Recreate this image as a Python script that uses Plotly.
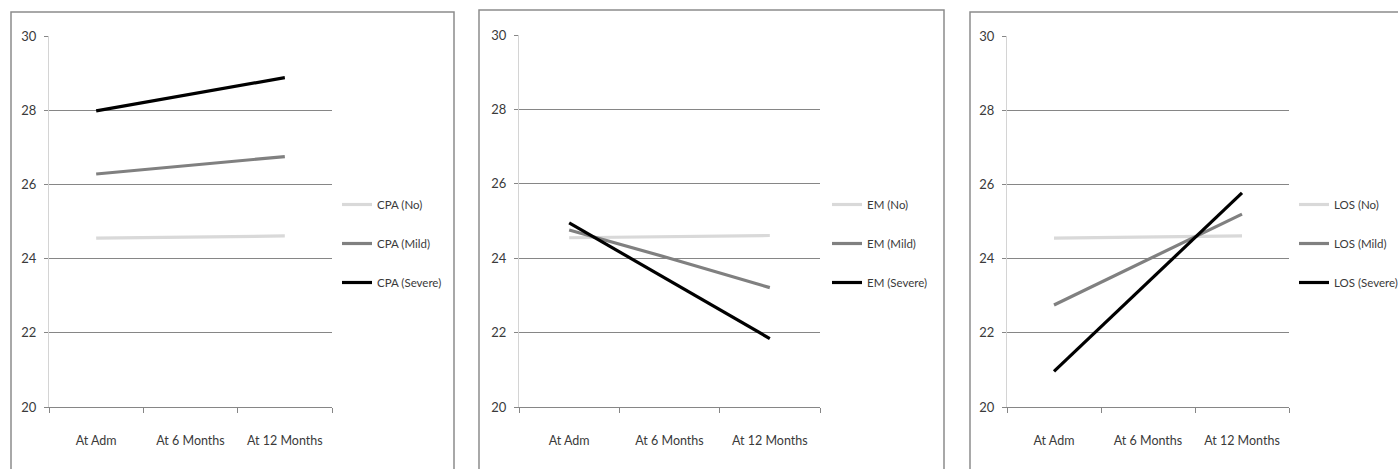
import plotly.graph_objects as go

W, H = 1399, 469

categories = ["At Adm", "At 6 Months", "At 12 Months"]

cpa_no = [24.55, 24.58, 24.61]
cpa_mild = [26.28, 26.51, 26.75]
cpa_severe = [27.98, 28.43, 28.88]

em_no = [24.55, 24.58, 24.61]
em_mild = [24.76, 24.0, 23.21]
em_severe = [24.95, 23.40, 21.84]

los_no = [24.55, 24.58, 24.61]
los_mild = [22.75, 23.98, 25.20]
los_severe = [20.96, 23.37, 25.77]

panel_names = ["CPA", "EM", "LOS"]
panel_series = [
    [cpa_no, cpa_mild, cpa_severe],
    [em_no, em_mild, em_severe],
    [los_no, los_mild, los_severe],
]
levels = ["No", "Mild", "Severe"]
colors = ["#d9d9d9", "#808080", "#000000"]
widths = [3.2, 3.2, 3.2]

# pixel layout
plot_x = [(49, 332), (519, 820), (1007, 1289)]
plot_top = [36, 35, 36]
plot_bottom = 407
legend_x = [337, 827, 1294]
boxes = [(11, 12, 454), (479, 10, 944), (970, 12, None)]

FONT = "Lato, Roboto, sans-serif"
TXT = "#3a3a3a"

fig = go.Figure()
for i, (pname, series) in enumerate(zip(panel_names, panel_series)):
    k = "" if i == 0 else str(i + 1)
    for j, (lvl, vals) in enumerate(zip(levels, series)):
        fig.add_trace(go.Scatter(
            x=categories, y=vals, mode="lines",
            name=f"{pname} ({lvl})",
            line=dict(color=colors[j], width=widths[j]),
            xaxis="x" + k, yaxis="y" + k,
            legend="legend" + k,
            legendgroup=f"{pname}{j}",
            hoverinfo="skip",
        ))

layout = dict(
    width=W, height=H,
    margin=dict(l=0, r=0, t=0, b=0, autoexpand=False),
    paper_bgcolor="white", plot_bgcolor="white",
    font=dict(family=FONT, size=12, color=TXT),
    shapes=[],
)
for i in range(3):
    k = "" if i == 0 else str(i + 1)
    x0, x1 = plot_x[i]
    ydom = [1 - plot_bottom / H, 1 - plot_top[i] / H]
    layout["xaxis" + k] = dict(
        domain=[x0 / W, x1 / W], anchor="y" + k,
        type="category", range=[-0.5, 2.5],
        showline=True, linecolor="#868686", linewidth=1,
        ticks="outside", tickson="boundaries", ticklen=5, tickcolor="#868686",
        ticklabelstandoff=22,
        showgrid=False, zeroline=False, automargin=False,
        tickfont=dict(family=FONT, size=12.5, color=TXT),
        fixedrange=True,
    )
    layout["yaxis" + k] = dict(
        domain=ydom, anchor="x" + k,
        range=[20, 30], tickvals=[20, 22, 24, 26, 28, 30],
        showgrid=True, gridcolor="#868686", gridwidth=1,
        showline=True, linecolor="#d4d4d4", linewidth=1,
        ticks="outside", ticklen=4, tickcolor="#868686",
        ticklabelstandoff=5,
        zeroline=False, automargin=False,
        tickfont=dict(family=FONT, size=13, color=TXT),
        fixedrange=True,
    )
    layout["legend" + k] = dict(
        xref="container", yref="container",
        x=legend_x[i] / W, xanchor="left",
        y=1 - 190 / H, yanchor="top",
        bgcolor="rgba(0,0,0,0)",
        font=dict(family=FONT, size=11.5, color=TXT),
        tracegroupgap=20,
        itemwidth=30,
    )
    bx0, by0, bx1 = boxes[i]
    ytop = H - by0
    if bx1 is None:
        pts = [(bx0, 0), (bx0, ytop), (W - 1, ytop)]
    else:
        pts = [(bx0, 0), (bx0, ytop), (bx1, ytop), (bx1, 0)]
    path = " ".join(
        ("M" if n == 0 else "L") + f" {px / W:.6f} {py / H:.6f}"
        for n, (px, py) in enumerate(pts)
    )
    layout["shapes"].append(dict(
        type="path", xref="paper", yref="paper",
        path=path,
        line=dict(color="#8c8c8c", width=1.5),
        layer="below",
    ))

fig.update_layout(**layout)
fig.write_html("out.html")
